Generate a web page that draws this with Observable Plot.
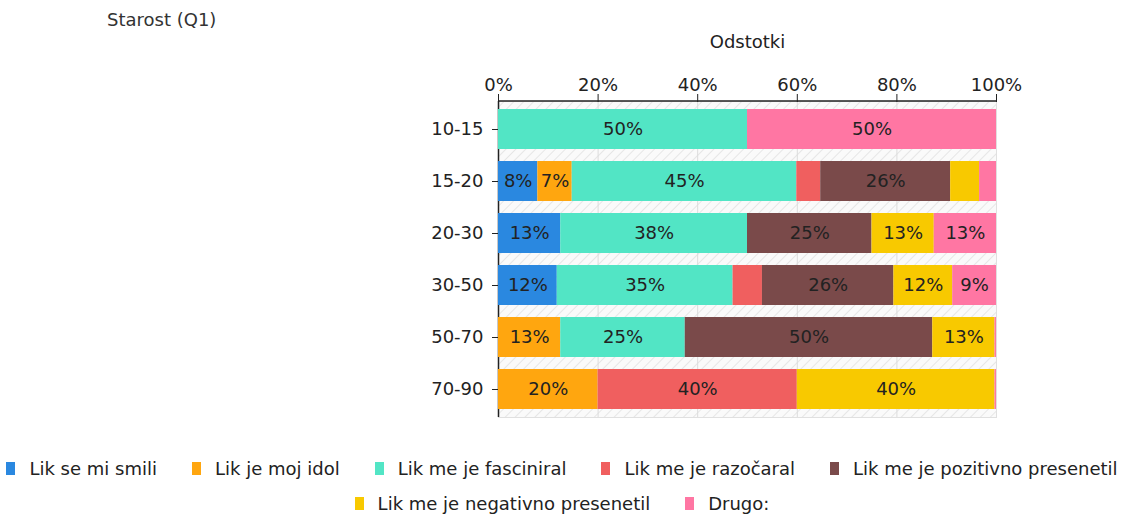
<!DOCTYPE html>
<html><head><meta charset="utf-8">
<script src="https://cdn.jsdelivr.net/npm/d3@7"></script>
<script src="https://cdn.jsdelivr.net/npm/@observablehq/plot@0.6"></script>
<style>
body{margin:0;background:#fff;font-family:"DejaVu Sans",Verdana,sans-serif;color:#222;}
#wrap{position:relative;width:1124px;height:517px;overflow:hidden;}
#ylab{position:absolute;left:107px;top:9px;font-size:18px;color:#333;}
#chart{position:absolute;left:0;top:0;}
#legend{position:absolute;left:0;top:457px;width:1124px;display:flex;flex-wrap:wrap;justify-content:center;column-gap:35px;row-gap:12px;font-size:18px;color:#222;}
.item{display:flex;align-items:center;white-space:nowrap;line-height:23px;}
.sw{display:inline-block;width:9px;height:13px;margin-right:14px;}
</style>
</head><body>
<div id="wrap"><div id="chart"></div><div id="ylab">Starost (Q1)</div><div id="legend"></div></div>
<script>
const ages = ["10-15","15-20","20-30","30-50","50-70","70-90"];
const categories = ["Lik se mi smili","Lik je moj idol","Lik me je fasciniral","Lik me je razočaral","Lik me je pozitivno presenetil","Lik me je negativno presenetil","Drugo:"];
const colors = ["#2a88e0","#ffa60f","#52e5c5","#f05f5f","#7a4a4a","#f8c900","#ff76a3"];
const smili      = [0, 7.9, 12.5, 11.8, 0, 0];
const idol       = [0, 6.9, 0, 0, 12.5, 20];
const fasciniral = [50, 45.1, 37.5, 35.3, 25, 0];
const razocaral  = [0, 4.8, 0, 5.9, 0, 40];
const pozitivno  = [0, 26.1, 25, 26.4, 49.7, 0];
const negativno  = [0, 5.8, 12.5, 11.8, 12.5, 39.7];
const drugo      = [50, 3.4, 12.5, 8.8, 0.3, 0.3];
const xTicks = [0, 20, 40, 60, 80, 100];

const series = [smili, idol, fasciniral, razocaral, pozitivno, negativno, drugo];
const rows = [];
ages.forEach((age, i) => categories.forEach((cat, j) => {
  rows.push({age, category: cat, value: series[j][i]});
}));

const chart = Plot.plot({
  width: 1124,
  height: 440,
  marginLeft: 498,
  marginRight: 128,
  marginTop: 101,
  marginBottom: 23,
  style: {fontFamily: "'DejaVu Sans', Verdana, sans-serif", fontSize: "18px", color: "#222", background: "#fff"},
  x: {domain: [0, 100]},
  y: {domain: ages, paddingInner: 0.24, paddingOuter: 0.11},
  color: {domain: categories, range: colors},
  marks: [
    Plot.frame({fill: "url(#hatch)", stroke: "#e0e0e0"}),
    Plot.ruleX(xTicks.slice(1, 5), {stroke: "#dcdcdc"}),
    Plot.ruleX([0], {stroke: "#222", strokeWidth: 1.5}),
    Plot.barX(rows, Plot.stackX({x: "value", y: "age", fill: "category", order: null})),
    Plot.text(rows, Plot.stackX({x: "value", y: "age", z: "category", order: null,
      text: d => d.value >= 6.5 ? Math.round(d.value) + "%" : "", fill: "#222", fontSize: 18})),
    Plot.axisX({anchor: "top", ticks: xTicks, tickFormat: d => d + "%", tickSize: 8, tickPadding: 3,
      label: "Odstotki", labelAnchor: "center", labelArrow: false, labelOffset: 66, fontSize: 18}),
    Plot.axisY({tickSize: 6, tickPadding: 9, label: null, fontSize: 18})
  ]
});

// pattern + top axis line from the plot's own scales
const svg = d3.select(chart.tagName === "svg" ? chart : chart.querySelector("svg"));
const defs = svg.insert("defs", ":first-child");
const pat = defs.append("pattern").attr("id", "hatch").attr("patternUnits", "userSpaceOnUse")
  .attr("width", 7).attr("height", 7).attr("patternTransform", "rotate(45)");
pat.append("rect").attr("width", 7).attr("height", 7).attr("fill", "#fafafa");
pat.append("line").attr("x1", 0).attr("y1", 0).attr("x2", 0).attr("y2", 7).attr("stroke", "#e6e6e6").attr("stroke-width", 2);
const xs = chart.scale("x"), ys = chart.scale("y");
svg.append("line").attr("x1", xs.apply(0)).attr("x2", xs.apply(100))
  .attr("y1", ys.range[0]).attr("y2", ys.range[0]).attr("stroke", "#222").attr("stroke-width", 1.5);

document.getElementById("chart").appendChild(chart);

const legend = document.getElementById("legend");
categories.forEach((c, i) => {
  const it = document.createElement("div"); it.className = "item";
  const sw = document.createElement("span"); sw.className = "sw"; sw.style.background = colors[i];
  it.appendChild(sw); it.appendChild(document.createTextNode(c));
  legend.appendChild(it);
});
</script>
</body></html>
